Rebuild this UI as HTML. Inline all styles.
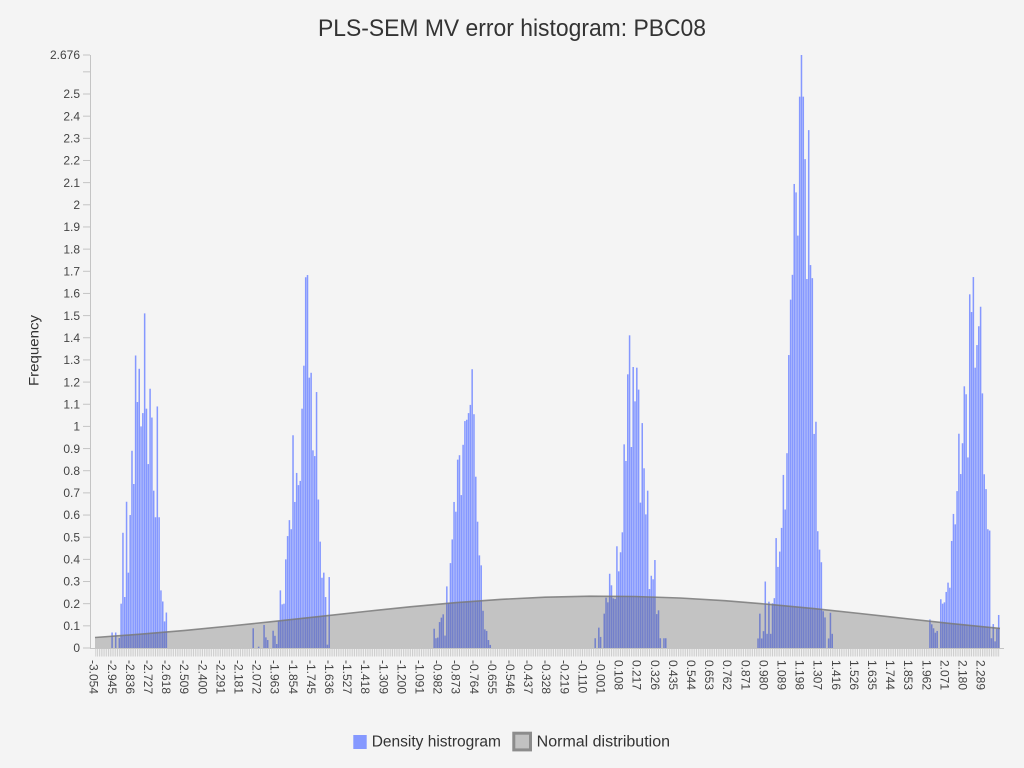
<!DOCTYPE html>
<html><head><meta charset="utf-8"><style>
html,body{margin:0;padding:0;background:#f4f4f4;}
svg{display:block;font-family:"Liberation Sans",sans-serif;}
</style></head><body>
<svg width="1024" height="768" viewBox="0 0 1024 768" xmlns="http://www.w3.org/2000/svg">
<defs>
<pattern id="tk" x="94.9" y="0" width="1.8094" height="20" patternUnits="userSpaceOnUse"><rect x="0.5" y="0" width="0.8" height="20" fill="#c6c6c6"/></pattern>
</defs>
<rect width="1024" height="768" fill="#f4f4f4"/>
<text x="512" y="36" text-anchor="middle" font-size="24" textLength="388" lengthAdjust="spacingAndGlyphs" fill="#333">PLS-SEM MV error histogram: PBC08</text>
<text transform="translate(38.7,350.5) rotate(-90)" text-anchor="middle" font-size="14" textLength="71" lengthAdjust="spacingAndGlyphs" fill="#333">Frequency</text>

<!-- y axis -->
<g stroke="#c4c4c4" stroke-width="1">
<line x1="90.5" y1="55" x2="90.5" y2="648"/>
<line x1="83" y1="648" x2="90" y2="648"/>
<line x1="83" y1="625.84" x2="90" y2="625.84"/>
<line x1="83" y1="603.68" x2="90" y2="603.68"/>
<line x1="83" y1="581.52" x2="90" y2="581.52"/>
<line x1="83" y1="559.36" x2="90" y2="559.36"/>
<line x1="83" y1="537.2" x2="90" y2="537.2"/>
<line x1="83" y1="515.04" x2="90" y2="515.04"/>
<line x1="83" y1="492.88" x2="90" y2="492.88"/>
<line x1="83" y1="470.72" x2="90" y2="470.72"/>
<line x1="83" y1="448.56" x2="90" y2="448.56"/>
<line x1="83" y1="426.4" x2="90" y2="426.4"/>
<line x1="83" y1="404.24" x2="90" y2="404.24"/>
<line x1="83" y1="382.08" x2="90" y2="382.08"/>
<line x1="83" y1="359.92" x2="90" y2="359.92"/>
<line x1="83" y1="337.76" x2="90" y2="337.76"/>
<line x1="83" y1="315.6" x2="90" y2="315.6"/>
<line x1="83" y1="293.44" x2="90" y2="293.44"/>
<line x1="83" y1="271.28" x2="90" y2="271.28"/>
<line x1="83" y1="249.12" x2="90" y2="249.12"/>
<line x1="83" y1="226.96" x2="90" y2="226.96"/>
<line x1="83" y1="204.8" x2="90" y2="204.8"/>
<line x1="83" y1="182.64" x2="90" y2="182.64"/>
<line x1="83" y1="160.48" x2="90" y2="160.48"/>
<line x1="83" y1="138.32" x2="90" y2="138.32"/>
<line x1="83" y1="116.16" x2="90" y2="116.16"/>
<line x1="83" y1="94" x2="90" y2="94"/>
<line x1="83" y1="71.84" x2="90" y2="71.84"/>
<line x1="83" y1="55" x2="90" y2="55"/>
</g>
<g font-size="12" fill="#444" text-anchor="end">
<text x="80" y="652.2">0</text>
<text x="80" y="630.04">0.1</text>
<text x="80" y="607.88">0.2</text>
<text x="80" y="585.72">0.3</text>
<text x="80" y="563.56">0.4</text>
<text x="80" y="541.4">0.5</text>
<text x="80" y="519.24">0.6</text>
<text x="80" y="497.08">0.7</text>
<text x="80" y="474.92">0.8</text>
<text x="80" y="452.76">0.9</text>
<text x="80" y="430.6">1</text>
<text x="80" y="408.44">1.1</text>
<text x="80" y="386.28">1.2</text>
<text x="80" y="364.12">1.3</text>
<text x="80" y="341.96">1.4</text>
<text x="80" y="319.8">1.5</text>
<text x="80" y="297.64">1.6</text>
<text x="80" y="275.48">1.7</text>
<text x="80" y="253.32">1.8</text>
<text x="80" y="231.16">1.9</text>
<text x="80" y="209">2</text>
<text x="80" y="186.84">2.1</text>
<text x="80" y="164.68">2.2</text>
<text x="80" y="142.52">2.3</text>
<text x="80" y="120.36">2.4</text>
<text x="80" y="98.2">2.5</text>
<text x="80" y="59.2">2.676</text>
</g>

<!-- x axis -->
<rect x="94.9" y="648.5" width="905" height="8" fill="url(#tk)"/>
<line x1="90" y1="648.5" x2="1004" y2="648.5" stroke="#c4c4c4" stroke-width="1"/>

<!-- bars -->
<g transform="translate(94.9,648) scale(1.8094,-221.6) translate(0.08,0)" fill="#8598ff">
<rect x="9" width=".84" height=".07"/><rect x="11" width=".84" height=".07"/><rect x="13" width=".84" height=".045"/><rect x="14" width=".84" height=".2"/><rect x="15" width=".84" height=".52"/><rect x="16" width=".84" height=".23"/><rect x="17" width=".84" height=".66"/><rect x="18" width=".84" height=".34"/><rect x="19" width=".84" height=".6"/><rect x="20" width=".84" height=".89"/><rect x="21" width=".84" height=".74"/><rect x="22" width=".84" height="1.32"/><rect x="23" width=".84" height="1.11"/><rect x="24" width=".84" height="1.26"/><rect x="25" width=".84" height="1.0"/><rect x="26" width=".84" height="1.06"/><rect x="27" width=".84" height="1.51"/><rect x="28" width=".84" height="1.08"/><rect x="29" width=".84" height=".83"/><rect x="30" width=".84" height="1.17"/><rect x="31" width=".84" height="1.04"/><rect x="32" width=".84" height=".71"/><rect x="33" width=".84" height=".59"/><rect x="34" width=".84" height="1.09"/><rect x="35" width=".84" height=".59"/><rect x="36" width=".84" height=".26"/><rect x="37" width=".84" height=".21"/><rect x="38" width=".84" height=".12"/><rect x="39" width=".84" height=".16"/>

<rect x="87" width=".84" height=".089"/><rect x="90" width=".84" height=".006"/><rect x="93" width=".84" height=".104"/><rect x="94" width=".84" height=".048"/><rect x="95" width=".84" height=".036"/><rect x="98" width=".84" height=".078"/><rect x="99" width=".84" height=".055"/><rect x="100" width=".84" height=".018"/><rect x="101" width=".84" height=".12"/><rect x="102" width=".84" height=".26"/><rect x="103" width=".84" height=".197"/><rect x="104" width=".84" height=".2"/><rect x="105" width=".84" height=".4"/><rect x="106" width=".84" height=".505"/><rect x="107" width=".84" height=".577"/><rect x="108" width=".84" height=".536"/><rect x="109" width=".84" height=".96"/><rect x="110" width=".84" height=".659"/><rect x="111" width=".84" height=".79"/><rect x="112" width=".84" height=".735"/><rect x="113" width=".84" height=".754"/><rect x="114" width=".84" height="1.08"/><rect x="115" width=".84" height="1.274"/><rect x="116" width=".84" height="1.673"/><rect x="117" width=".84" height="1.683"/><rect x="118" width=".84" height="1.22"/><rect x="119" width=".84" height="1.242"/><rect x="120" width=".84" height=".892"/><rect x="121" width=".84" height=".866"/><rect x="122" width=".84" height="1.155"/><rect x="123" width=".84" height=".67"/><rect x="124" width=".84" height=".48"/><rect x="125" width=".84" height=".317"/><rect x="126" width=".84" height=".34"/><rect x="127" width=".84" height=".23"/><rect x="128" width=".84" height=".015"/><rect x="129" width=".84" height=".32"/>

<rect x="187" width=".84" height=".087"/><rect x="188" width=".84" height=".044"/><rect x="189" width=".84" height=".047"/><rect x="190" width=".84" height=".117"/><rect x="191" width=".84" height=".137"/><rect x="192" width=".84" height=".152"/><rect x="193" width=".84" height=".056"/><rect x="194" width=".84" height=".278"/><rect x="195" width=".84" height=".205"/><rect x="196" width=".84" height=".383"/><rect x="197" width=".84" height=".49"/><rect x="198" width=".84" height=".659"/><rect x="199" width=".84" height=".615"/><rect x="200" width=".84" height=".85"/><rect x="201" width=".84" height=".87"/><rect x="202" width=".84" height=".69"/><rect x="203" width=".84" height=".917"/><rect x="204" width=".84" height="1.024"/><rect x="205" width=".84" height="1.03"/><rect x="206" width=".84" height="1.06"/><rect x="207" width=".84" height="1.097"/><rect x="208" width=".84" height="1.258"/><rect x="209" width=".84" height="1.055"/><rect x="210" width=".84" height=".773"/><rect x="211" width=".84" height=".57"/><rect x="212" width=".84" height=".418"/><rect x="213" width=".84" height=".373"/><rect x="214" width=".84" height=".168"/><rect x="215" width=".84" height=".084"/><rect x="216" width=".84" height=".077"/><rect x="217" width=".84" height=".036"/><rect x="218" width=".84" height=".014"/>

<rect x="276" width=".84" height=".044"/><rect x="278" width=".84" height=".092"/><rect x="279" width=".84" height=".05"/><rect x="281" width=".84" height=".155"/><rect x="282" width=".84" height=".227"/><rect x="283" width=".84" height=".206"/><rect x="284" width=".84" height=".335"/><rect x="285" width=".84" height=".283"/><rect x="286" width=".84" height=".224"/><rect x="287" width=".84" height=".221"/><rect x="288" width=".84" height=".459"/><rect x="289" width=".84" height=".346"/><rect x="290" width=".84" height=".432"/><rect x="291" width=".84" height=".522"/><rect x="292" width=".84" height=".919"/><rect x="293" width=".84" height=".844"/><rect x="294" width=".84" height="1.235"/><rect x="295" width=".84" height="1.411"/><rect x="296" width=".84" height=".907"/><rect x="297" width=".84" height="1.268"/><rect x="298" width=".84" height="1.113"/><rect x="299" width=".84" height="1.265"/><rect x="300" width=".84" height="1.166"/><rect x="301" width=".84" height=".656"/><rect x="302" width=".84" height="1.015"/><rect x="303" width=".84" height=".811"/><rect x="304" width=".84" height=".603"/><rect x="305" width=".84" height=".71"/><rect x="306" width=".84" height=".266"/><rect x="307" width=".84" height=".326"/><rect x="308" width=".84" height=".31"/><rect x="309" width=".84" height=".397"/><rect x="310" width=".84" height=".153"/><rect x="311" width=".84" height=".17"/><rect x="312" width=".84" height=".044"/><rect x="314" width=".84" height=".044"/><rect x="315" width=".84" height=".044"/>

<rect x="366" width=".84" height=".043"/><rect x="367" width=".84" height=".155"/><rect x="368" width=".84" height=".043"/><rect x="369" width=".84" height=".076"/><rect x="370" width=".84" height=".30"/><rect x="371" width=".84" height=".064"/><rect x="372" width=".84" height=".209"/><rect x="373" width=".84" height=".064"/><rect x="374" width=".84" height=".202"/><rect x="375" width=".84" height=".225"/><rect x="376" width=".84" height=".496"/><rect x="377" width=".84" height=".366"/><rect x="378" width=".84" height=".435"/><rect x="379" width=".84" height=".542"/><rect x="380" width=".84" height=".781"/><rect x="381" width=".84" height=".625"/><rect x="382" width=".84" height=".879"/><rect x="383" width=".84" height="1.322"/><rect x="384" width=".84" height="1.572"/><rect x="385" width=".84" height="1.684"/><rect x="386" width=".84" height="2.094"/><rect x="387" width=".84" height="2.056"/><rect x="388" width=".84" height="1.861"/><rect x="389" width=".84" height="2.488"/><rect x="390" width=".84" height="2.676"/><rect x="391" width=".84" height="2.488"/><rect x="392" width=".84" height="2.206"/><rect x="393" width=".84" height="1.665"/><rect x="394" width=".84" height="2.337"/><rect x="395" width=".84" height="1.728"/><rect x="396" width=".84" height="1.669"/><rect x="397" width=".84" height=".966"/><rect x="398" width=".84" height="1.021"/><rect x="399" width=".84" height=".527"/><rect x="400" width=".84" height=".444"/><rect x="401" width=".84" height=".387"/><rect x="402" width=".84" height=".166"/><rect x="403" width=".84" height=".138"/><rect x="405" width=".84" height=".043"/><rect x="406" width=".84" height=".159"/><rect x="407" width=".84" height=".064"/>

<rect x="461" width=".84" height=".129"/><rect x="462" width=".84" height=".107"/><rect x="463" width=".84" height=".089"/><rect x="464" width=".84" height=".069"/><rect x="465" width=".84" height=".077"/><rect x="467" width=".84" height=".22"/><rect x="468" width=".84" height=".2"/><rect x="469" width=".84" height=".206"/><rect x="470" width=".84" height=".253"/><rect x="471" width=".84" height=".295"/><rect x="472" width=".84" height=".272"/><rect x="473" width=".84" height=".483"/><rect x="474" width=".84" height=".605"/><rect x="475" width=".84" height=".558"/><rect x="476" width=".84" height=".708"/><rect x="477" width=".84" height=".967"/><rect x="478" width=".84" height=".785"/><rect x="479" width=".84" height=".924"/><rect x="480" width=".84" height="1.181"/><rect x="481" width=".84" height="1.145"/><rect x="482" width=".84" height=".86"/><rect x="483" width=".84" height="1.596"/><rect x="484" width=".84" height="1.516"/><rect x="485" width=".84" height="1.674"/><rect x="486" width=".84" height="1.265"/><rect x="487" width=".84" height="1.367"/><rect x="488" width=".84" height="1.452"/><rect x="489" width=".84" height="1.54"/><rect x="490" width=".84" height="1.149"/><rect x="491" width=".84" height=".784"/><rect x="492" width=".84" height=".717"/><rect x="493" width=".84" height=".536"/><rect x="494" width=".84" height=".53"/><rect x="495" width=".84" height=".044"/><rect x="496" width=".84" height=".108"/><rect x="497" width=".84" height=".03"/><rect x="498" width=".84" height=".086"/><rect x="499" width=".84" height=".149"/>
</g>

<!-- normal distribution area -->
<path d="M95,648 L95,637.5 L140,634.2 L185,630.4 L230,626.0 L275,621.3 L320,616.4 L365,611.5 L410,606.8 L455,602.7 L500,599.4 L545,597.2 L590,596.2 L635,596.5 L680,598.0 L725,600.7 L770,604.4 L815,608.7 L860,613.5 L905,618.5 L950,623.4 L1000,628.4 L1000,648 Z" fill="rgba(70,70,70,0.28)"/>
<path d="M95,637.5 L140,634.2 L185,630.4 L230,626.0 L275,621.3 L320,616.4 L365,611.5 L410,606.8 L455,602.7 L500,599.4 L545,597.2 L590,596.2 L635,596.5 L680,598.0 L725,600.7 L770,604.4 L815,608.7 L860,613.5 L905,618.5 L950,623.4 L1000,628.4" fill="none" stroke="#7a7a7a" stroke-width="1.6" stroke-opacity="0.85"/>

<!-- x labels -->
<g font-size="12" fill="#444">
<text transform="translate(89.7,660) rotate(90)">-3.054</text>
<text transform="translate(107.8,660) rotate(90)">-2.945</text>
<text transform="translate(125.9,660) rotate(90)">-2.836</text>
<text transform="translate(144.0,660) rotate(90)">-2.727</text>
<text transform="translate(162.1,660) rotate(90)">-2.618</text>
<text transform="translate(180.2,660) rotate(90)">-2.509</text>
<text transform="translate(198.3,660) rotate(90)">-2.400</text>
<text transform="translate(216.4,660) rotate(90)">-2.291</text>
<text transform="translate(234.5,660) rotate(90)">-2.181</text>
<text transform="translate(252.6,660) rotate(90)">-2.072</text>
<text transform="translate(270.7,660) rotate(90)">-1.963</text>
<text transform="translate(288.8,660) rotate(90)">-1.854</text>
<text transform="translate(306.9,660) rotate(90)">-1.745</text>
<text transform="translate(325.0,660) rotate(90)">-1.636</text>
<text transform="translate(343.1,660) rotate(90)">-1.527</text>
<text transform="translate(361.2,660) rotate(90)">-1.418</text>
<text transform="translate(379.3,660) rotate(90)">-1.309</text>
<text transform="translate(397.4,660) rotate(90)">-1.200</text>
<text transform="translate(415.5,660) rotate(90)">-1.091</text>
<text transform="translate(433.6,660) rotate(90)">-0.982</text>
<text transform="translate(451.7,660) rotate(90)">-0.873</text>
<text transform="translate(469.8,660) rotate(90)">-0.764</text>
<text transform="translate(487.9,660) rotate(90)">-0.655</text>
<text transform="translate(506.0,660) rotate(90)">-0.546</text>
<text transform="translate(524.1,660) rotate(90)">-0.437</text>
<text transform="translate(542.2,660) rotate(90)">-0.328</text>
<text transform="translate(560.3,660) rotate(90)">-0.219</text>
<text transform="translate(578.4,660) rotate(90)">-0.110</text>
<text transform="translate(596.5,660) rotate(90)">-0.001</text>
<text transform="translate(614.6,660) rotate(90)">0.108</text>
<text transform="translate(632.7,660) rotate(90)">0.217</text>
<text transform="translate(650.8,660) rotate(90)">0.326</text>
<text transform="translate(668.9,660) rotate(90)">0.435</text>
<text transform="translate(687.0,660) rotate(90)">0.544</text>
<text transform="translate(705.1,660) rotate(90)">0.653</text>
<text transform="translate(723.2,660) rotate(90)">0.762</text>
<text transform="translate(741.3,660) rotate(90)">0.871</text>
<text transform="translate(759.4,660) rotate(90)">0.980</text>
<text transform="translate(777.5,660) rotate(90)">1.089</text>
<text transform="translate(795.6,660) rotate(90)">1.198</text>
<text transform="translate(813.7,660) rotate(90)">1.307</text>
<text transform="translate(831.8,660) rotate(90)">1.416</text>
<text transform="translate(849.9,660) rotate(90)">1.526</text>
<text transform="translate(868.0,660) rotate(90)">1.635</text>
<text transform="translate(886.1,660) rotate(90)">1.744</text>
<text transform="translate(904.2,660) rotate(90)">1.853</text>
<text transform="translate(922.3,660) rotate(90)">1.962</text>
<text transform="translate(940.4,660) rotate(90)">2.071</text>
<text transform="translate(958.5,660) rotate(90)">2.180</text>
<text transform="translate(976.6,660) rotate(90)">2.289</text>
</g>

<!-- legend -->
<rect x="353.3" y="735" width="13.4" height="14" fill="#8598ff"/>
<text x="371.7" y="746.7" font-size="15.5" fill="#333" textLength="129.3" lengthAdjust="spacingAndGlyphs">Density histrogram</text>
<rect x="513.8" y="733.2" width="16.7" height="16.7" fill="#c2c2c2" stroke="#8c8c8c" stroke-width="3"/>
<text x="536.7" y="746.7" font-size="15.5" fill="#333" textLength="133.3" lengthAdjust="spacingAndGlyphs">Normal distribution</text>
</svg>
</body></html>
